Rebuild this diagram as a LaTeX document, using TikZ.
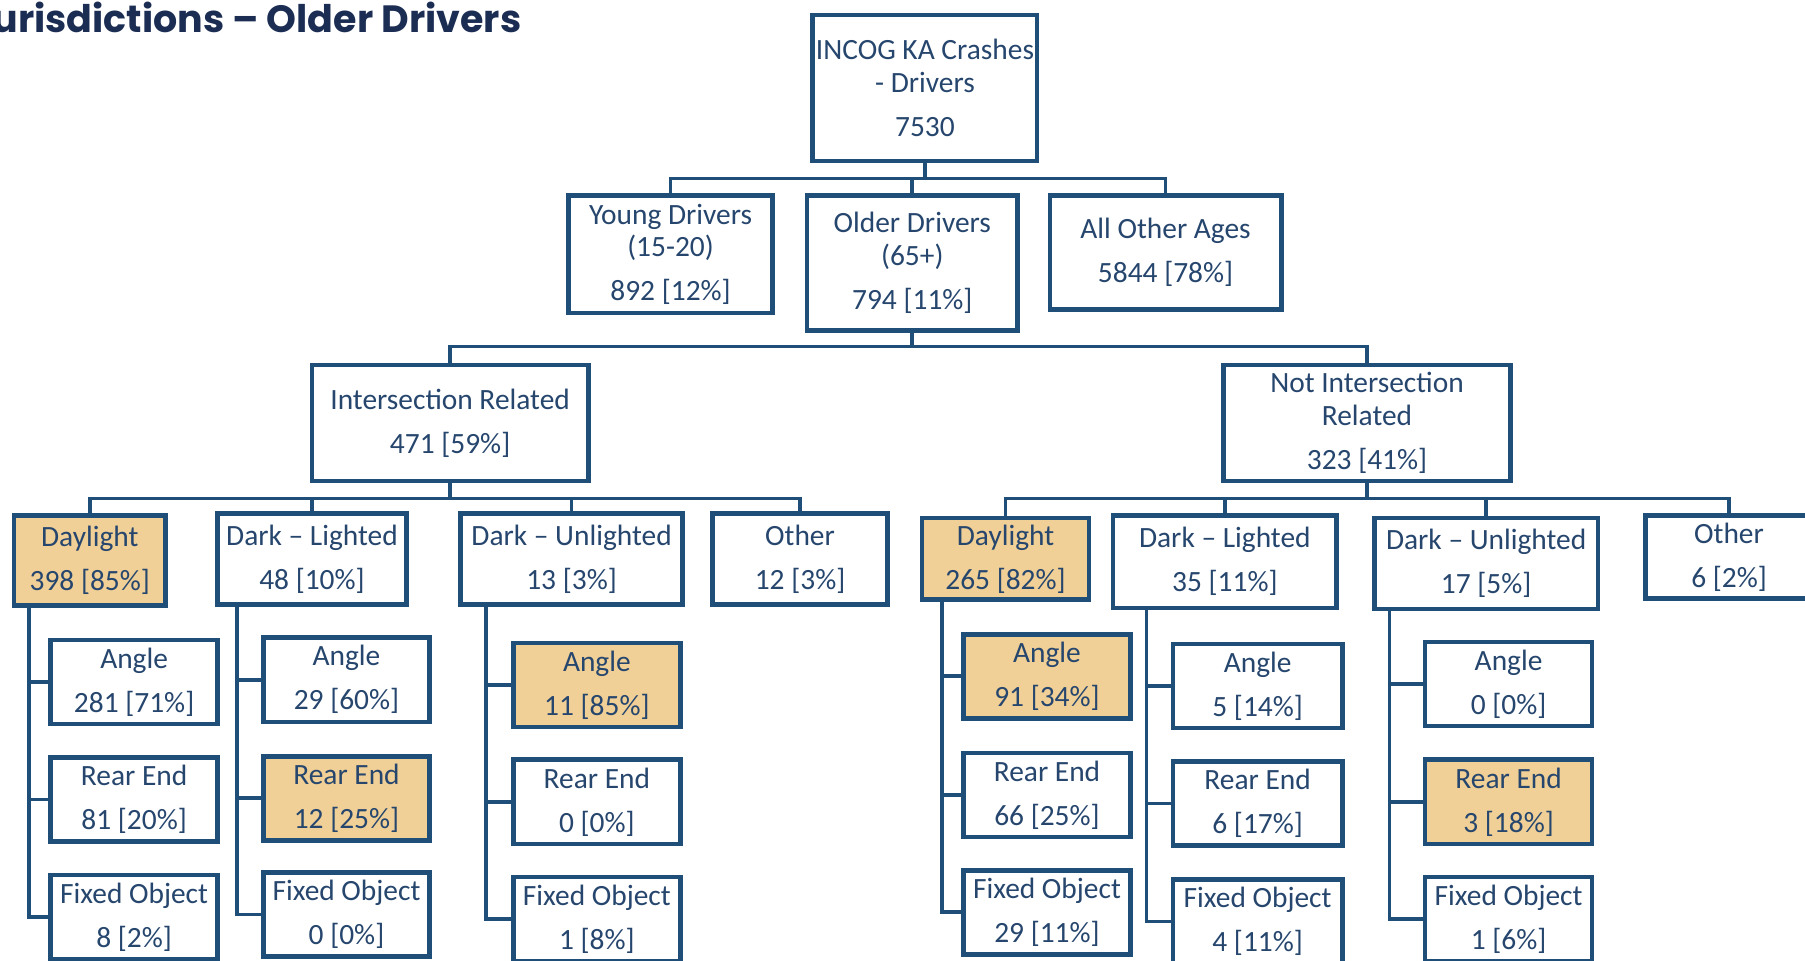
\documentclass[tikz,border=0pt]{standalone}
\usepackage{fontspec}
\setmainfont{Carlito}
\newfontfamily\titlefont{Poppins}
\usetikzlibrary{positioning}
\definecolor{BoxBlue}{RGB}{31,78,121}
\definecolor{TextBlue}{RGB}{38,70,110}
\definecolor{TanFill}{RGB}{240,208,150}
\definecolor{TitleBlue}{RGB}{27,45,82}

\begin{document}
\begin{tikzpicture}[x=0.403pt, y=-0.403pt,
  box/.style={draw=BoxBlue, line width=1.6pt, fill=white, text=TextBlue, align=center,
    inner sep=0pt, font=\fontsize{10.3}{11.4}\selectfont},
  hl/.style={box, fill=TanFill},
  dim/.style 2 args={minimum width=#1*0.403pt, minimum height=#2*0.403pt},
  link/.style={draw=BoxBlue, line width=1.3pt}]
  \useasboundingbox (0,0) rectangle (1568,834);
  % title
  \node[anchor=base west, inner sep=0pt, text=TitleBlue,
    font=\titlefont\bfseries\fontsize{13.3}{15}\selectfont] (title) at (-7,28) {urisdictions – Older Drivers};
  % top levels
  \node[box, dim={195}{127}] (root) at (803.5,76.5) {INCOG KA Crashes\\- Drivers\\[4pt]7530};
  \node[box, dim={177}{102}] (young) at (582.5,221) {Young Drivers\\(15-20)\\[4pt]892 [12\%]};
  \node[box, dim={183}{117}] (older) at (792.5,228.5) {Older Drivers\\(65+)\\[4pt]794 [11\%]};
  \node[box, dim={201}{99}] (allother) at (1012.5,219.5) {All Other Ages\\[4pt]5844 [78\%]};
  \node[box, dim={240}{101}] (ir) at (391,367.5) {Intersection Related\\[4pt]471 [59\%]};
  \node[box, dim={249}{101}] (nir) at (1187.5,367.5) {Not Intersection\\Related\\[4pt]323 [41\%]};
  % lighting, intersection related
  \node[hl, dim={132}{78}] (dayL) at (78,487) {Daylight\\[4pt]398 [85\%]};
  \node[box, dim={164}{79}] (dlL) at (271,485.5) {Dark – Lighted\\[4pt]48 [10\%]};
  \node[box, dim={193}{79}] (duL) at (496.5,485.5) {Dark – Unlighted\\[4pt]13 [3\%]};
  \node[box, dim={152}{79}] (othL) at (695,485.5) {Other\\[4pt]12 [3\%]};
  % lighting, not intersection related
  \node[hl, dim={145}{71}] (dayR) at (873.5,485.5) {Daylight\\[4pt]265 [82\%]};
  \node[box, dim={194}{80}] (dlR) at (1064,488) {Dark – Lighted\\[4pt]35 [11\%]};
  \node[box, dim={194}{79}] (duR) at (1291,489.5) {Dark – Unlighted\\[4pt]17 [5\%]};
  \node[box, dim={145}{72}] (othR) at (1502,484) {Other\\[4pt]6 [2\%]};
  % crash types
  \node[box, dim={145}{73}] (dayL-a) at (116.5,592.5) {Angle\\[4pt]281 [71\%]};
  \node[box, dim={145}{73}] (dayL-r) at (116.5,694.5) {Rear End\\[4pt]81 [20\%]};
  \node[box, dim={145}{73}] (dayL-f) at (116.5,796.5) {Fixed Object\\[4pt]8 [2\%]};
  \node[box, dim={144}{73}] (dlL-a) at (301,590.5) {Angle\\[4pt]29 [60\%]};
  \node[hl, dim={144}{73}] (dlL-r) at (301,693.5) {Rear End\\[4pt]12 [25\%]};
  \node[box, dim={144}{73}] (dlL-f) at (301,794.5) {Fixed Object\\[4pt]0 [0\%]};
  \node[hl, dim={145}{73}] (duL-a) at (518.5,595) {Angle\\[4pt]11 [85\%]};
  \node[box, dim={145}{73}] (duL-r) at (518.5,696.5) {Rear End\\[4pt]0 [0\%]};
  \node[box, dim={145}{73}] (duL-f) at (518.5,798.5) {Fixed Object\\[4pt]1 [8\%]};
  \node[hl, dim={145}{73}] (dayR-a) at (909.5,587.5) {Angle\\[4pt]91 [34\%]};
  \node[box, dim={145}{73}] (dayR-r) at (909.5,690.5) {Rear End\\[4pt]66 [25\%]};
  \node[box, dim={145}{73}] (dayR-f) at (909.5,792.5) {Fixed Object\\[4pt]29 [11\%]};
  \node[box, dim={147}{73}] (dlR-a) at (1092.5,596) {Angle\\[4pt]5 [14\%]};
  \node[box, dim={147}{73}] (dlR-r) at (1092.5,698) {Rear End\\[4pt]6 [17\%]};
  \node[box, dim={147}{73}] (dlR-f) at (1092.5,800.5) {Fixed Object\\[4pt]4 [11\%]};
  \node[box, dim={145}{73}] (duR-a) at (1310.5,594) {Angle\\[4pt]0 [0\%]};
  \node[hl, dim={145}{73}] (duR-r) at (1310.5,696.5) {Rear End\\[4pt]3 [18\%]};
  \node[box, dim={145}{73}] (duR-f) at (1310.5,798.5) {Fixed Object\\[4pt]1 [6\%]};
  % connectors
  \coordinate (rootbus) at (root.south |- 0,155);
  \draw[link] (root.south) -- (rootbus);
  \foreach \n in {young,older,allother} \draw[link] (rootbus) -| (\n.north);
  \coordinate (olderbus) at (older.south |- 0,301);
  \draw[link] (older.south) -- (olderbus);
  \foreach \n in {ir,nir} \draw[link] (olderbus) -| (\n.north);
  \coordinate (irbus) at (ir.south |- 0,433);
  \draw[link] (ir.south) -- (irbus);
  \foreach \n in {dayL,dlL,duL,othL} \draw[link] (irbus) -| (\n.north);
  \coordinate (nirbus) at (nir.south |- 0,433);
  \draw[link] (nir.south) -- (nirbus);
  \foreach \n in {dayR,dlR,duR,othR} \draw[link] (nirbus) -| (\n.north);
  % spines to the crash types
  \foreach \p/\x in {dayL/25, dlL/206, duL/422, dayR/818, dlR/996, duR/1207} {
    \draw[link] (\x,0 |- \p.south) |- (\p-f.west);
    \draw[link] (\x,0 |- \p-a.west) -- (\p-a.west);
    \draw[link] (\x,0 |- \p-r.west) -- (\p-r.west);
  }
\end{tikzpicture}
\end{document}
